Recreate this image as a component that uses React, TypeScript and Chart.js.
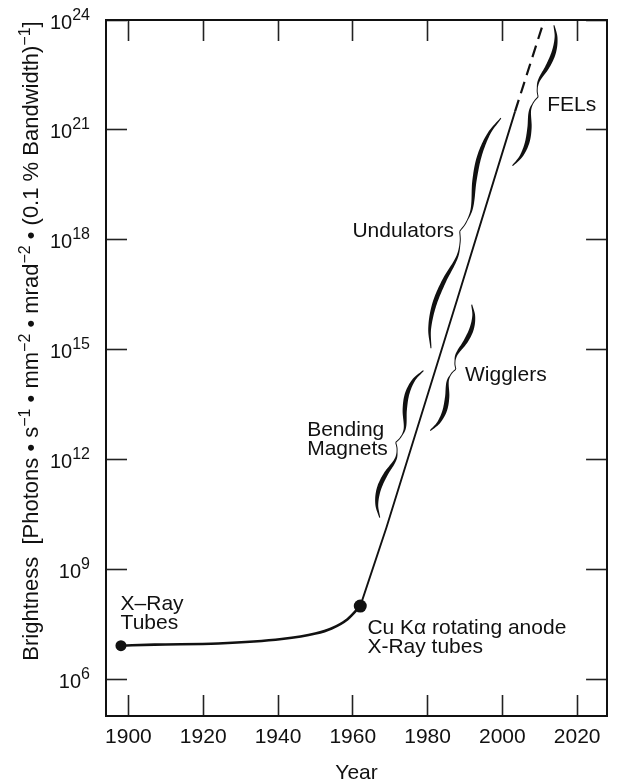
import React, { useEffect, useRef } from 'react';
import { Chart, registerables } from 'chart.js';

Chart.register(...registerables);

// ---------- data ----------
const X_TICKS = [1900, 1920, 1940, 1960, 1980, 2000, 2020];
const Y_TICKS = [1e6, 1e9, 1e12, 1e15, 1e18, 1e21, 1e24];
const Y_TICK_EXPONENTS = ['6', '9', '12', '15', '18', '21', '24'];

// X-ray tube era (low curve)
const TUBE_YEARS = [1898, 1907, 1924, 1941, 1950, 1954.3, 1958.6, 1962];
const TUBE_BRIGHTNESS = [8.3e6, 8.9e6, 9.5e6, 1.26e7, 1.78e7, 2.45e7, 4.4e7, 1.0e8];

// synchrotron sources (steep straight line)
const SYNC_YEARS = [1962, 1969, 1988, 2003.4];
const SYNC_BRIGHTNESS = [1.0e8, 1.4e10, 2.5e16, 3.2e21];

// extrapolated FEL line (dashed)
const FEL_YEARS = [2003.4, 2011.2];
const FEL_BRIGHTNESS = [3.2e21, 1.0e24];

// marked sources
const SOURCE_YEARS = [1898, 1962];
const SOURCE_BRIGHTNESS = [8.3e6, 1.0e8];

// braces spanning each source family
const BRACE_NAMES = ['Bending Magnets', 'Wigglers', 'Undulators', 'FELs'];
const BRACE_START_YEAR = [1967.2, 1980.7, 1980.9, 2002.7];
const BRACE_START_BRIGHTNESS = [2.6e10, 6.2e12, 1.1e15, 1.05e20];
const BRACE_END_YEAR = [1978.9, 1991.8, 1999.6, 2013.8];
const BRACE_END_BRIGHTNESS = [2.7e14, 1.7e16, 2.1e21, 7.2e23];
const BRACE_SIDE = ['left', 'right', 'left', 'right'];

// text labels
const LABEL_LINES = [
  ['X–Ray', 'Tubes'],
  ['Cu Kα rotating anode', 'X-Ray tubes'],
  ['Bending', 'Magnets'],
  ['Wigglers'],
  ['Undulators'],
  ['FELs'],
];
const LABEL_YEAR = [1897.9, 1963.9, 1947.8, 1990.0, 1959.9, 2012.0];
const LABEL_BRIGHTNESS = [7.6e7, 1.7e7, 4.5e12, 1.4e14, 1.2e18, 3.2e21];

const Y_TITLE_PARTS: [string, boolean][] = [
  ['Brightness  [Photons • s', false],
  ['−1', true],
  [' • mm', false],
  ['−2', true],
  [' • mrad', false],
  ['−2', true],
  [' • (0.1 % Bandwidth)', false],
  ['−1', true],
  [']', false],
];

// ---------- styles ----------
const FONT = '"Liberation Sans", Arial, Helvetica, sans-serif';
const INK = '#111';
const BRACE_DEPTH: Record<string, number> = {
  'Bending Magnets': 9,
  Wigglers: 7.5,
  Undulators: 9.5,
  FELs: 7.5,
};
const PROFILE: [number, number][] = [
  [0, 0],
  [0.15, 0.72],
  [0.35, 1],
  [0.56, 0.75],
  [0.79, 0.16],
  [0.92, 0.32],
  [1, 0.68],
];

function profileAt(s: number): number {
  const p = PROFILE;
  const n = p.length;
  let i = 0;
  while (i < n - 2 && s > p[i + 1][0]) i++;
  const slope = (k: number) => {
    if (k === 0) return (p[1][1] - p[0][1]) / (p[1][0] - p[0][0]);
    if (k === n - 1) return (p[n - 1][1] - p[n - 2][1]) / (p[n - 1][0] - p[n - 2][0]);
    return (p[k + 1][1] - p[k - 1][1]) / (p[k + 1][0] - p[k - 1][0]);
  };
  const x0 = p[i][0], x1 = p[i + 1][0];
  const h = x1 - x0;
  const t = (s - x0) / h;
  const t2 = t * t, t3 = t2 * t;
  const h00 = 2 * t3 - 3 * t2 + 1;
  const h10 = t3 - 2 * t2 + t;
  const h01 = -2 * t3 + 3 * t2;
  const h11 = t3 - t2;
  return h00 * p[i][1] + h10 * h * slope(i) + h01 * p[i + 1][1] + h11 * h * slope(i + 1);
}

function thicknessAt(s: number): number {
  const q = Math.min(s / 0.88, 1);
  return 1.0 + 3.6 * Math.sin(Math.PI * q);
}

function drawBrace(
  ctx: CanvasRenderingContext2D,
  ax: number, ay: number, bx: number, by: number,
  side: string, depth: number
) {
  const dx = bx - ax, dy = by - ay;
  const len = Math.hypot(dx, dy);
  const ux = dx / len, uy = dy / len;
  let nx = -uy, ny = ux;
  if ((side === 'right' && nx < 0) || (side === 'left' && nx > 0)) {
    nx = -nx; ny = -ny;
  }
  const half = len / 2;
  const halves: [number, number, number, number][] = [
    [ax, ay, ux, uy],
    [bx, by, -ux, -uy],
  ];
  halves.forEach(([ex, ey, vx, vy]) => {
    const N = 60;
    const pts: [number, number, number][] = [];
    for (let i = 0; i <= N; i++) {
      const s = i / N;
      const f = profileAt(s);
      pts.push([ex + vx * s * half + nx * depth * f, ey + vy * s * half + ny * depth * f, thicknessAt(s)]);
    }
    const left: [number, number][] = [];
    const right: [number, number][] = [];
    for (let i = 0; i <= N; i++) {
      const p0 = pts[Math.max(0, i - 1)];
      const p1 = pts[Math.min(N, i + 1)];
      let tx = p1[0] - p0[0], ty = p1[1] - p0[1];
      const tl = Math.hypot(tx, ty) || 1;
      tx /= tl; ty /= tl;
      const w = pts[i][2] / 2;
      left.push([pts[i][0] - ty * w, pts[i][1] + tx * w]);
      right.push([pts[i][0] + ty * w, pts[i][1] - tx * w]);
    }
    ctx.beginPath();
    left.forEach((p, i) => (i ? ctx.lineTo(p[0], p[1]) : ctx.moveTo(p[0], p[1])));
    for (let i = right.length - 1; i >= 0; i--) ctx.lineTo(right[i][0], right[i][1]);
    ctx.closePath();
    ctx.fill();
  });
}

const annotationPlugin = {
  id: 'annotations',
  afterDatasetsDraw(chart: any) {
    const { ctx } = chart;
    const xs = chart.scales.x;
    const ys = chart.scales.y;
    ctx.save();
    ctx.fillStyle = INK;
    BRACE_NAMES.forEach((name, i) => {
      drawBrace(
        ctx,
        xs.getPixelForValue(BRACE_START_YEAR[i]),
        ys.getPixelForValue(BRACE_START_BRIGHTNESS[i]),
        xs.getPixelForValue(BRACE_END_YEAR[i]),
        ys.getPixelForValue(BRACE_END_BRIGHTNESS[i]),
        BRACE_SIDE[i],
        BRACE_DEPTH[name]
      );
    });
    ctx.font = `21px ${FONT}`;
    ctx.textAlign = 'left';
    ctx.textBaseline = 'alphabetic';
    LABEL_LINES.forEach((lines, i) => {
      const x = xs.getPixelForValue(LABEL_YEAR[i]);
      const y = ys.getPixelForValue(LABEL_BRIGHTNESS[i]);
      lines.forEach((line, k) => ctx.fillText(line, x, y + k * 19));
    });
    ctx.restore();
  },
  afterDraw(chart: any) {
    const { ctx, chartArea } = chart;
    const ys = chart.scales.y;
    ctx.save();
    ctx.fillStyle = INK;
    ctx.textAlign = 'left';
    ctx.textBaseline = 'alphabetic';
    // y tick labels 10^n
    const baseFont = `20px ${FONT}`;
    const supFont = `16px ${FONT}`;
    ys.ticks.forEach((t: any, i: number) => {
      const py = ys.getPixelForValue(t.value);
      const exp = Y_TICK_EXPONENTS[i];
      ctx.font = supFont;
      const supW = ctx.measureText(exp).width;
      ctx.font = baseFont;
      const baseW = ctx.measureText('10').width;
      const right = chartArea.left - 16;
      ctx.fillText('10', right - supW - baseW, py + 8.5);
      ctx.font = supFont;
      ctx.fillText(exp, right - supW, py - 0.5);
    });
    // rotated y title
    const tBase = `22px ${FONT}`;
    const tSup = `16px ${FONT}`;
    let total = 0;
    Y_TITLE_PARTS.forEach(([txt, sup]) => {
      ctx.font = sup ? tSup : tBase;
      total += ctx.measureText(txt).width;
    });
    const centerY = 341;
    ctx.translate(38, centerY + total / 2);
    ctx.rotate(-Math.PI / 2);
    let pos = 0;
    Y_TITLE_PARTS.forEach(([txt, sup]) => {
      ctx.font = sup ? tSup : tBase;
      ctx.fillText(txt, pos, sup ? -8.5 : 0);
      pos += ctx.measureText(txt).width;
    });
    ctx.restore();
  },
};

const gridOpts = {
  display: true,
  drawOnChartArea: false,
  drawTicks: true,
  tickLength: -21,
  tickWidth: 1.6,
  tickColor: '#222',
};
const borderOpts = { display: true, color: INK, width: 2 };

export default function App() {
  const ref = useRef<HTMLCanvasElement | null>(null);

  useEffect(() => {
    if (!ref.current) return;
    const setX = (s: any) => {
      s.ticks = X_TICKS.map((v) => ({ value: v }));
    };
    const setY = (s: any) => {
      s.ticks = Y_TICKS.map((v) => ({ value: v }));
    };
    const chart = new Chart(ref.current, {
      type: 'line',
      data: {
        datasets: [
          {
            label: 'X-ray tubes',
            data: TUBE_YEARS.map((x, i) => ({ x, y: TUBE_BRIGHTNESS[i] })),
            borderColor: INK,
            borderWidth: 2.6,
            pointRadius: 0,
            cubicInterpolationMode: 'monotone',
            fill: false,
          },
          {
            label: 'Synchrotron',
            data: SYNC_YEARS.map((x, i) => ({ x, y: SYNC_BRIGHTNESS[i] })),
            borderColor: INK,
            borderWidth: 1.9,
            pointRadius: 0,
            tension: 0,
            fill: false,
          },
          {
            label: 'FEL extrapolation',
            data: FEL_YEARS.map((x, i) => ({ x, y: FEL_BRIGHTNESS[i] })),
            borderColor: INK,
            borderWidth: 2.2,
            borderDash: [12, 7],
            pointRadius: 0,
            fill: false,
          },
          {
            label: 'Sources',
            data: SOURCE_YEARS.map((x, i) => ({ x, y: SOURCE_BRIGHTNESS[i] })),
            showLine: false,
            pointRadius: [5.5, 6.5],
            pointBackgroundColor: INK,
            pointBorderWidth: 0,
          },
        ],
      },
      options: {
        animation: false,
        responsive: false,
        devicePixelRatio: 1,
        layout: { padding: 0 },
        plugins: {
          legend: { display: false },
          tooltip: { enabled: false },
        },
        scales: {
          x: {
            type: 'linear',
            position: 'bottom',
            min: 1894,
            max: 2028,
            bounds: 'data',
            afterBuildTicks: setX,
            afterFit: (s: any) => {
              s.height = 67;
            },
            grid: gridOpts,
            border: borderOpts,
            ticks: {
              color: INK,
              font: { family: FONT, size: 21 },
              padding: 30,
              maxRotation: 0,
              autoSkip: false,
              callback: (v: any) => String(v),
            },
            title: {
              display: true,
              text: 'Year',
              color: INK,
              font: { family: FONT, size: 21, lineHeight: 1 },
              padding: { top: 0, bottom: -1 },
            },
          },
          x2: {
            type: 'linear',
            position: 'top',
            min: 1894,
            max: 2028,
            bounds: 'data',
            afterBuildTicks: setX,
            afterFit: (s: any) => {
              s.height = 20;
            },
            grid: gridOpts,
            border: borderOpts,
            ticks: { display: false },
          },
          y: {
            type: 'logarithmic',
            position: 'left',
            min: 1e5,
            max: 1e24,
            bounds: 'data',
            afterBuildTicks: setY,
            afterFit: (s: any) => {
              s.width = 106;
            },
            grid: gridOpts,
            border: borderOpts,
            ticks: { display: false },
          },
          y2: {
            type: 'logarithmic',
            position: 'right',
            min: 1e5,
            max: 1e24,
            bounds: 'data',
            afterBuildTicks: setY,
            afterFit: (s: any) => {
              s.width = 8;
            },
            grid: gridOpts,
            border: borderOpts,
            ticks: { display: false },
          },
        },
      } as any,
      plugins: [annotationPlugin],
    });
    return () => chart.destroy();
  }, []);

  return (
    <div style={{ position: 'fixed', left: 0, top: 0, width: 632, height: 783, background: '#fff' }}>
      <canvas ref={ref} width={632} height={783} style={{ display: 'block' }} />
    </div>
  );
}
